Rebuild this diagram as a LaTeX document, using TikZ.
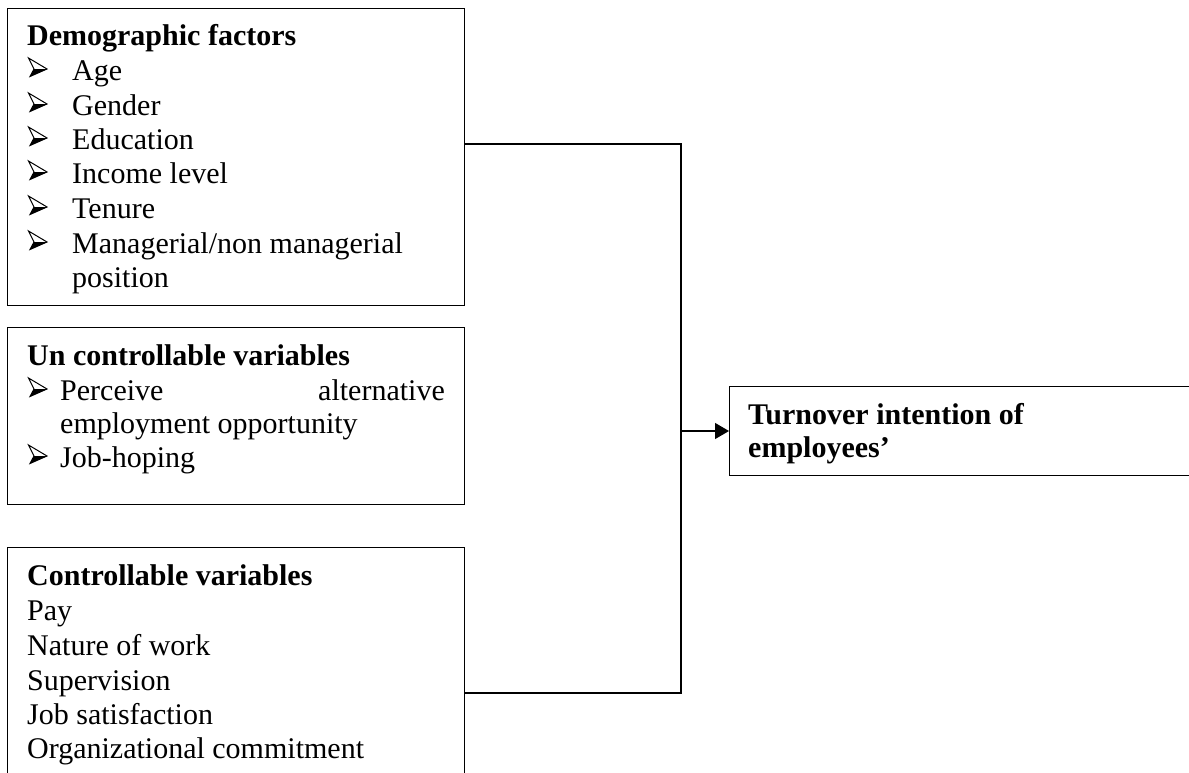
\documentclass[tikz,border=0pt]{standalone}
\usepackage{fontspec}
\setmainfont{Liberation Serif}
\usetikzlibrary{arrows.meta}
\tikzset{
  box/.style={draw, line width=1.2pt, anchor=north west, inner sep=0pt},
  txt/.style={anchor=base west, inner sep=0pt, font=\fontsize{30}{34.6}\selectfont},
  hd/.style={txt, font=\fontsize{30}{34.6}\selectfont\bfseries},
  conn/.style={line width=1.2pt},
  bullet/.pic={
    \fill (6,-11) -- (19,-11) -- (2,-3.5) -- cycle;
    \draw[line width=1pt, line join=miter] (0.5,-22) -- (19,-11) -- (2,-3.5) -- (6,-11) -- cycle;
  },
}
\begin{document}
\begin{tikzpicture}[x=1pt,y=-1pt]
\useasboundingbox (0,0) rectangle (1189,772);
\clip (0,0) rectangle (1189,772);
% boxes
\node[box, minimum width=457pt, minimum height=297pt] (b1) at (7,8) {};
\node[box, minimum width=457pt, minimum height=177pt] (b2) at (7,327) {};
\node[box, minimum width=457pt, minimum height=260pt] (b3) at (7,547) {};
\node[box, minimum width=500pt, minimum height=89pt] (out) at (729,386) {};
% box 1 text
\node[hd] (h1) at (27,45) {Demographic factors};
\foreach \y in {80,115,149,183,218,253}{
  \pic at (28,\y) {bullet};
}
\node[txt] (t1) at (72,80) {Age};
\node[txt] (t2) at (72,115) {Gender};
\node[txt] (t3) at (72,149) {Education};
\node[txt] (t4) at (72,183) {Income level};
\node[txt] (t5) at (72,218) {Tenure};
\node[txt] (t6) at (72,253) {Managerial/non managerial};
\node[txt] (t7) at (72,287) {position};
% box 2 text
\node[hd] (h2) at (27,365) {Un controllable variables};
\pic at (28,400) {bullet};
\node[txt] (u1) at (60,400) {Perceive};
\node[txt, anchor=base east] (u2) at (445,400) {alternative};
\node[txt] (u3) at (60,433) {employment opportunity};
\pic at (28,467) {bullet};
\node[txt] (u4) at (60,467) {Job-hoping};
% box 3 text
\node[hd] (h3) at (27,585) {Controllable variables};
\node[txt] (v1) at (27,620) {Pay};
\node[txt] (v2) at (27,655) {Nature of work};
\node[txt] (v3) at (27,690) {Supervision};
\node[txt] (v4) at (27,724) {Job satisfaction};
\node[txt] (v5) at (27,758) {Organizational commitment};
% outcome text
\node[hd] (o1) at (748,424) {Turnover intention of};
\node[hd] (o2) at (748,457) {employees’};
% connectors
\coordinate (j1) at (681,144);
\coordinate (j3) at (681,693);
\coordinate (jm) at (681,431);
\draw[conn] (b1.east |- j1) -- (j1) -- (j3) -- (b3.east |- j3);
\draw[conn, -{Triangle[length=14pt,width=16pt]}] (jm) -- (out.west |- jm);
\end{tikzpicture}
\end{document}
